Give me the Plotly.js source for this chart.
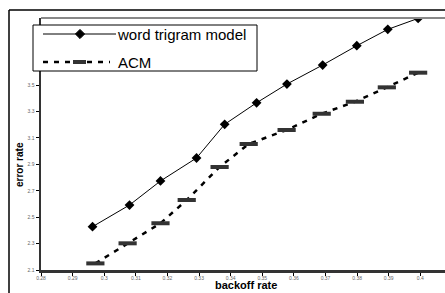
<!DOCTYPE html>
<html><head><meta charset="utf-8">
<script src="https://cdn.plot.ly/plotly-3.0.1.min.js"></script>
<style>html,body{margin:0;padding:0;background:#fff;overflow:hidden}#chart{width:445px;height:293px}</style>
</head><body><div id="chart"></div>
<script>
const seriesNames = ["word trigram model", "ACM"];
const trigramX = [0.2963, 0.3080, 0.3178, 0.3292, 0.3381, 0.3482, 0.3578, 0.3691, 0.3799, 0.3897, 0.3993];
const trigramY = [2.428, 2.592, 2.774, 2.948, 3.203, 3.366, 3.508, 3.652, 3.798, 3.922, 4.005];
const acmX = [0.2972, 0.3074, 0.3178, 0.3261, 0.3365, 0.3457, 0.3577, 0.3688, 0.3793, 0.3894, 0.3993];
const acmY = [2.150, 2.302, 2.454, 2.630, 2.880, 3.054, 3.160, 3.283, 3.374, 3.483, 3.594];
const yTickVals = [2.1, 2.3, 2.5, 2.7, 2.9, 3.1, 3.3, 3.5];
const xTitle = "backoff rate";
const yTitle = "error rate";

// plot area geometry (pixels) for placing decorations in paper coords
const W = 445, H = 293, ML = 41, MT = 18, MB = 23;
const PW = W - ML, PH = H - MT - MB;
const px = x => (x - ML) / PW;
const py = y => 1 - (y - MT) / PH;

const traces = [
  {x: trigramX, y: trigramY, name: seriesNames[0], type: "scatter", mode: "lines+markers",
   line: {color: "#000", width: 1},
   marker: {symbol: "diamond", size: 7.5, color: "#000"}},
  {x: acmX, y: acmY, name: seriesNames[1], type: "scatter", mode: "lines+markers",
   line: {color: "#000", width: 2.5, dash: "5px,6px"},
   marker: {symbol: "line-ew", size: 13, color: "#333", line: {color: "#333", width: 4}}}
];

const dx = 4.6, dy = 4.6, lx = 80, r1 = 34, r2 = 62;
const diamondPath = `M${px(lx - dx)},${py(r1)} L${px(lx)},${py(r1 - dy)} L${px(lx + dx)},${py(r1)} L${px(lx)},${py(r1 + dy)} Z`;

const layout = {
  width: W, height: H,
  margin: {l: ML, r: 0, t: MT, b: MB},
  paper_bgcolor: "#fff", plot_bgcolor: "#fff",
  font: {family: "Arial, Liberation Sans, sans-serif", color: "#000"},
  showlegend: false,
  xaxis: {range: [0.28, 0.4078], tick0: 0.28, dtick: 0.01, showgrid: false, zeroline: false,
    showline: true, linecolor: "#333", linewidth: 2.5,
    ticks: "outside", ticklen: 3, tickwidth: 1, tickcolor: "#000",
    ticklabelstandoff: -2,
    tickfont: {size: 5, color: "#666"}},
  yaxis: {range: [2.1, 4.008], tickvals: yTickVals, showgrid: false, zeroline: false,
    showline: true, linecolor: "#333", linewidth: 2.5,
    ticks: "outside", ticklen: 3, tickwidth: 1, tickcolor: "#000",
    tickfont: {size: 5, color: "#666"}},
  annotations: [
    {text: "<b>" + xTitle + "</b>", xref: "paper", yref: "paper", x: px(246), y: py(285),
     xanchor: "center", yanchor: "middle", showarrow: false, font: {size: 11, color: "#000"}},
    {text: "<b>" + yTitle + "</b>", xref: "paper", yref: "paper", x: px(19), y: py(165),
     xanchor: "center", yanchor: "middle", textangle: -90, showarrow: false, font: {size: 10, color: "#000"}},
    {text: seriesNames[0], xref: "paper", yref: "paper", x: px(115), y: py(r1),
     xanchor: "left", yanchor: "middle", showarrow: false, font: {size: 15, color: "#000"}},
    {text: seriesNames[1], xref: "paper", yref: "paper", x: px(116), y: py(r2),
     xanchor: "left", yanchor: "middle", showarrow: false, font: {size: 15, color: "#000"}}
  ],
  shapes: [
    {type: "line", xref: "paper", yref: "paper", x0: 0, x1: 1.05, y0: 1, y1: 1,
     line: {color: "#888", width: 2}},
    {type: "line", xref: "paper", yref: "paper", x0: px(9), x1: 1.05, y0: py(10), y1: py(10),
     line: {color: "#000", width: 1.5}},
    {type: "line", xref: "paper", yref: "paper", x0: px(9), x1: px(9), y0: py(10), y1: py(300),
     line: {color: "#000", width: 1.5}},
    // legend box
    {type: "rect", xref: "paper", yref: "paper", x0: px(33), x1: px(257), y0: py(25), y1: py(71),
     fillcolor: "#fff", line: {color: "#000", width: 1}},
    {type: "line", xref: "paper", yref: "paper", x0: px(43), x1: px(116), y0: py(r1), y1: py(r1),
     line: {color: "#000", width: 1}},
    {type: "path", xref: "paper", yref: "paper", path: diamondPath, fillcolor: "#000", line: {color: "#000", width: 1}},
    {type: "line", xref: "paper", yref: "paper", x0: px(43), x1: px(110), y0: py(r2), y1: py(r2),
     line: {color: "#000", width: 2.5, dash: "5px,6px"}},
    {type: "rect", xref: "paper", yref: "paper", x0: px(73), x1: px(86), y0: py(r2 - 2), y1: py(r2 + 2),
     fillcolor: "#333", line: {width: 0}}
  ]
};

Plotly.newPlot("chart", traces, layout, {displayModeBar: false, staticPlot: true});
</script></body></html>
